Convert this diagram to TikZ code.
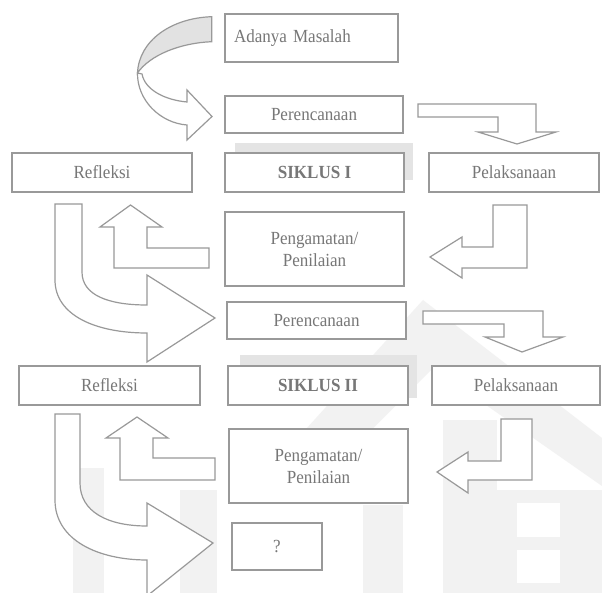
\documentclass[tikz,border=0pt]{standalone}
\usepackage{fontspec}
\setmainfont{Liberation Serif}[FakeStretch=0.92]
\definecolor{lc}{HTML}{999999}
\definecolor{tc}{HTML}{777777}
\definecolor{wm}{HTML}{F2F2F2}
\definecolor{wmd}{HTML}{E4E4E4}
\definecolor{cg}{HTML}{E2E2E2}
\begin{document}
\begin{tikzpicture}[x=1pt,y=-1pt,
  box/.style={draw=lc, line width=1.2pt, fill=white, text=tc,
    font=\fontsize{18.5}{22}\selectfont, inner sep=0pt, align=center},
  boldbox/.style={box, font=\fontsize{18.5}{22}\selectfont\bfseries},
  blk/.style={draw=lc, line width=1.2pt, fill=white, line join=miter},
  wmark/.style={fill=wm, draw=none},
  wshadow/.style={fill=wmd, draw=none}]
\useasboundingbox (0,0) rectangle (602,593);
\fill[white] (0,0) rectangle (602,593);

% faint watermark
\fill[wmark] (423,300) -- (602,438) -- (602,486) -- (433,368) -- (300,502) -- (258,482) -- cycle;
\fill[wmark] (73,468) rectangle (104,593);
\fill[wmark] (180,490) rectangle (217,593);
\fill[wmark] (363,505) rectangle (403,593);
\fill[wmark] (443,420) rectangle (497,593);
\fill[wmark] (497,490) rectangle (602,593);
\fill[white] (517,503) rectangle (560,537);
\fill[white] (517,550) rectangle (560,583);
\fill[wshadow] (235,143) rectangle (413,180);
\fill[wshadow] (240,355) rectangle (417,398);

% boxes
\node[box, minimum width=173pt, minimum height=48pt, text width=155pt, align=left] (adanya) at (311.5,38) {Adanya Masalah};
\node[box, minimum width=178pt, minimum height=37pt] (per1) at (314,114.5) {Perencanaan};
\node[boldbox, minimum width=179pt, minimum height=39pt] (sik1) at (314.5,172.5) {SIKLUS I};
\node[box, minimum width=170pt, minimum height=39pt] (pel1) at (514,172.5) {Pelaksanaan};
\node[box, minimum width=180pt, minimum height=39pt] (ref1) at (102,172.5) {Refleksi};
\node[box, minimum width=179pt, minimum height=74pt] (pen1) at (314.5,249) {Pengamatan/\\Penilaian};

\node[box, minimum width=179pt, minimum height=37pt] (per2) at (316.5,320.5) {Perencanaan};
\node[boldbox, minimum width=180pt, minimum height=39pt] (sik2) at (318,385.5) {SIKLUS II};
\node[box, minimum width=168pt, minimum height=39pt] (pel2) at (516,385.5) {Pelaksanaan};
\node[box, minimum width=181pt, minimum height=39pt] (ref2) at (109.5,385.5) {Refleksi};
\node[box, minimum width=179pt, minimum height=74pt] (pen2) at (318.5,466) {Pengamatan/\\Penilaian};
\node[box, minimum width=90pt, minimum height=47pt] (q) at (277,546.5) {?};

% curved arrow: Adanya Masalah -> Perencanaan
\filldraw[blk, fill=cg] (211.7,16.7) .. controls (172,18) and (139,40) .. (137.5,73)
  .. controls (150,55) and (180,43) .. (211.7,41.7) -- cycle;
\filldraw[blk] (137.5,73) .. controls (137,100) and (160,123) .. (187,125)
  -- (187,140) -- (212,116.5) -- (187,90) -- (187,102)
  .. controls (165,100) and (145,90) .. (142,74) -- cycle;

% cycle I
\filldraw[blk] (418,104) -- (536,104) -- (536,132) -- (556,132) -- (517,144) -- (478,132)
  -- (498,132) -- (498,117) -- (418,117) -- cycle;
\filldraw[blk] (527,205) -- (527,268) -- (462,268) -- (462,278) -- (430,257) -- (462,237)
  -- (462,247) -- (493,247) -- (493,205) -- cycle;
\filldraw[blk] (209,248) -- (209,268) -- (114,268) -- (114,227) -- (100,227) -- (130.5,205)
  -- (162,227) -- (147,227) -- (147,248) -- cycle;
\filldraw[blk] (55,204) -- (55,280) .. controls (55,315) and (95,333) .. (147,333)
  -- (147,362) -- (215,318) -- (147,275) -- (147,305)
  .. controls (108,305) and (82,295) .. (82,272) -- (82,204) -- cycle;

% cycle II
\filldraw[blk] (423,311) -- (543,311) -- (543,337) -- (563,337) -- (522,352) -- (485,337)
  -- (504,337) -- (504,324) -- (423,324) -- cycle;
\filldraw[blk] (532,419) -- (532,480) -- (468,480) -- (468,493) -- (437,472) -- (468,452)
  -- (468,461) -- (501,461) -- (501,419) -- cycle;
\filldraw[blk] (215,458) -- (215,480) -- (120,480) -- (120,438) -- (106,438) -- (137,417)
  -- (168,438) -- (153,438) -- (153,458) -- cycle;
\filldraw[blk] (55,414) -- (55,500) .. controls (55,540) and (98,560) .. (147,560)
  -- (147,596) -- (213,543) -- (147,503) -- (147,526)
  .. controls (108,526) and (80,512) .. (80,483) -- (80,414) -- cycle;
\end{tikzpicture}
\end{document}
